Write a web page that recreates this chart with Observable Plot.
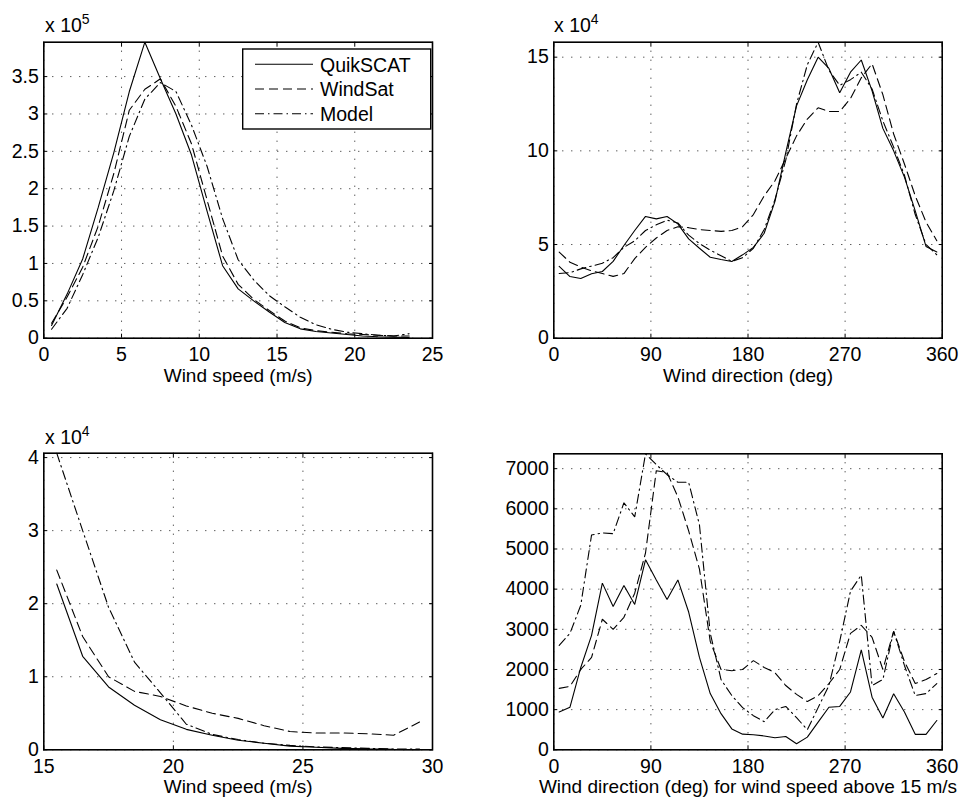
<!DOCTYPE html>
<html>
<head>
<meta charset="utf-8">
<script src="https://cdn.jsdelivr.net/npm/d3@7"></script>
<script src="https://cdn.jsdelivr.net/npm/@observablehq/plot@0.6"></script>
<style>
html, body { margin: 0; padding: 0; background: #fff; }
#root { position: relative; width: 972px; height: 801px; overflow: hidden; background: #fff; font-family: "Liberation Sans", Arial, Helvetica, sans-serif; }
.panel { position: absolute; }
#overlay { position: absolute; left: 0; top: 0; pointer-events: none; }
</style>
</head>
<body>
<div id="root"></div>
<script>
// ---------- DATA ----------
const seriesNames = ["QuikSCAT", "WindSat", "Model"];

// Panel 1: wind speed histogram (x 10^5)
const speedBins = [0.5,1.5,2.5,3.5,4.5,5.5,6.5,7.5,8.5,9.5,10.5,11.5,12.5,13.5,14.5,15.5,16.5,17.5,18.5,19.5,20.5,21.5,22.5,23.5];
const speedQuikSCAT = [0.17,0.59,1.06,1.75,2.48,3.3,3.96,3.47,3.0,2.45,1.7,0.97,0.66,0.5,0.35,0.21,0.125,0.09,0.07,0.05,0.03,0.02,0.015,0.01];
const speedWindSat  = [0.2,0.55,0.95,1.5,2.2,3.05,3.33,3.47,3.1,2.6,1.85,1.1,0.72,0.52,0.37,0.23,0.14,0.1,0.08,0.06,0.05,0.04,0.03,0.03];
const speedModel    = [0.12,0.4,0.85,1.35,1.97,2.7,3.2,3.42,3.3,2.85,2.3,1.6,1.05,0.78,0.57,0.42,0.28,0.18,0.12,0.08,0.06,0.04,0.03,0.06];
const speedTicksX = [0,5,10,15,20,25];
const speedTicksY = [0,0.5,1,1.5,2,2.5,3,3.5];

// Panel 2: wind direction histogram (x 10^4)
const dirBins = [5,15,25,35,45,55,65,75,85,95,105,115,125,135,145,155,165,175,185,195,205,215,225,235,245,255,265,275,285,295,305,315,325,335,345,355];
const dirQuikSCAT = [3.83,3.29,3.19,3.44,3.56,4.1,4.95,5.75,6.5,6.37, 6.5,6.1,5.3,4.8,4.32,4.2,4.09,4.45,4.85,5.6, 7.3,9.9,12.4,13.8,15.0,14.4,13.1,14.2,14.85,13.2, 11.2,10.0,8.6,6.8,4.9,4.6];
const dirWindSat  = [4.6,4.05,3.8,3.6,3.45,3.3,3.45,4.25,4.85,5.35, 5.75,5.95,5.9,5.8,5.75,5.7,5.75,5.95,6.6,7.6, 8.4,9.6,10.8,11.7,12.3,12.1,12.1,12.8,13.9,14.65, 13.0,10.9,9.3,7.6,6.2,5.2];
const dirModel    = [3.45,3.5,3.7,3.85,4.0,4.3,4.85,5.2,5.75,6.05, 6.3,6.15,5.5,5.05,4.7,4.4,4.1,4.3,4.8,5.8, 7.4,9.5,12.5,14.6,15.8,14.3,13.5,13.8,14.2,13.3, 11.6,10.2,8.7,6.6,5.0,4.45];
const dirTicksX = [0,90,180,270,360];
const dirTicksY = [0,5,10,15];

// Panel 3: high wind speed tail (x 10^4)
const highBins = [15.5,16.5,17.5,18.5,19.5,20.5,21.5,22.5,23.5,24.5,25.5,26.5,27.5,28.5,29.5];
const highQuikSCAT = [2.27,1.28,0.86,0.61,0.41,0.28,0.2,0.13,0.09,0.05,0.035,0.02,0.012,0.006,0.003];
const highWindSat  = [2.46,1.55,1.0,0.8,0.73,0.6,0.5,0.43,0.33,0.25,0.23,0.23,0.22,0.2,0.38];
const highModel    = [4.06,3.0,1.95,1.2,0.78,0.35,0.21,0.14,0.09,0.06,0.04,0.03,0.02,0.01,0.01];
const highTicksX = [15,20,25,30];
const highTicksY = [0,1,2,3,4];

// Panel 4: wind direction for wind speed above 15 m/s (counts)
const hdirQuikSCAT = [940,1060,2050,2850,4150,3570,4090,3620,4730,4230, 3740,4230,3430,2300,1400,900,520,390,375,345, 300,330,150,315,690,1060,1080,1440,2490,1310, 790,1395,940,385,385,730];
const hdirWindSat  = [1530,1580,2000,2300,3250,3000,3300,3900,4900,6950, 6900,6300,5450,4500,2700,2000,1970,2000,2220,2050, 1920,1600,1380,1200,1350,1650,2000,2900,3100,2800, 2000,2950,2200,1650,1750,1900];
const hdirModel    = [2600,2900,3600,5350,5400,5380,6150,5800,7370,7100, 6850,6660,6660,5600,2900,1750,1350,1050,850,700, 1000,1080,800,500,1050,1600,2700,3950,4350,1600, 1750,2950,2100,1350,1400,1650];
const hdirTicksY = [0,1000,2000,3000,4000,5000,6000,7000];

const xLabels = ["Wind speed (m/s)", "Wind direction (deg)", "Wind speed (m/s)", "Wind direction (deg) for wind speed above 15 m/s"];

// ---------- STYLE ----------
const FONT = '"Liberation Sans", Arial, Helvetica, sans-serif';
const FS = 19.5;
const dashes = { QuikSCAT: null, WindSat: "9,5", Model: "9,4,1.5,4" };

function makePanel(o) {
  const lines = o.series.map((vals, k) => {
    const name = seriesNames[k];
    const rows = o.xs.map((x, i) => ({ x, y: vals[i] }));
    return Plot.line(rows, { x: "x", y: "y", stroke: "#000", strokeWidth: 1.1, strokeDasharray: dashes[name], strokeLinejoin: "miter" });
  });
  const grid = { stroke: "#000", strokeOpacity: 0.9, strokeWidth: 1, strokeDasharray: "1,8" };
  const plot = Plot.plot({
    width: o.width, height: o.height,
    marginLeft: o.mL, marginRight: o.mR, marginTop: o.mT, marginBottom: o.mB,
    x: { domain: o.xDomain, label: null },
    y: { domain: o.yDomain, label: null },
    style: { fontFamily: FONT, fontSize: FS + "px", color: "#000", background: "transparent", overflow: "visible" },
    marks: [
      Plot.gridX(o.xTicks, grid),
      Plot.gridY(o.yTicks, grid),
      ...lines,
      Plot.axisX(o.xTicks, { anchor: "bottom", tickSize: -4, tickPadding: 13, tickFormat: d => String(d), label: null, stroke: "#000" }),
      Plot.axisX(o.xTicks, { anchor: "top", tickSize: -4, tickFormat: () => "", label: null, stroke: "#000" }),
      Plot.axisY(o.yTicks, { anchor: "left", tickSize: -4, tickPadding: 9, tickFormat: d => String(d), label: null, stroke: "#000" }),
      Plot.axisY(o.yTicks, { anchor: "right", tickSize: -4, tickFormat: () => "", label: null, stroke: "#000" }),
      Plot.frame({ stroke: "#000", strokeWidth: 1.6 }),
      Plot.text([o.xLabel], { frameAnchor: "bottom", dy: 43.3, text: d => d, fill: "#000", fontSize: 19 })
    ]
  });
  const wrap = document.createElement("div");
  wrap.className = "panel";
  wrap.style.left = o.left + "px";
  wrap.style.top = o.top + "px";
  wrap.appendChild(plot);
  document.getElementById("root").appendChild(wrap);
}

makePanel({ left: 0, top: 0, width: 486, height: 400, mL: 43.3, mR: 54, mT: 41.7, mB: 62.3,
  xDomain: [0, 25], yDomain: [0, 3.96], xTicks: speedTicksX, yTicks: speedTicksY, xLabel: xLabels[0],
  xs: speedBins, series: [speedQuikSCAT, speedWindSat, speedModel] });

makePanel({ left: 486, top: 0, width: 486, height: 400, mL: 67.3, mR: 30.3, mT: 41.7, mB: 62.3,
  xDomain: [0, 360], yDomain: [0, 15.8], xTicks: dirTicksX, yTicks: dirTicksY, xLabel: xLabels[1],
  xs: dirBins, series: [dirQuikSCAT, dirWindSat, dirModel] });

makePanel({ left: 0, top: 400, width: 486, height: 401, mL: 43.3, mR: 54, mT: 52.7, mB: 51.7,
  xDomain: [15, 30], yDomain: [0, 4.06], xTicks: highTicksX, yTicks: highTicksY, xLabel: xLabels[2],
  xs: highBins, series: [highQuikSCAT, highWindSat, highModel] });

makePanel({ left: 486, top: 400, width: 486, height: 401, mL: 67.3, mR: 30.3, mT: 53.3, mB: 51.7,
  xDomain: [0, 360], yDomain: [0, 7370], xTicks: dirTicksX, yTicks: hdirTicksY, xLabel: xLabels[3],
  xs: dirBins, series: [hdirQuikSCAT, hdirWindSat, hdirModel] });

// ---------- OVERLAY: exponent labels and legend ----------
const ov = d3.select("#root").append("svg").attr("id", "overlay").attr("width", 972).attr("height", 801)
  .style("font-family", FONT);

const exps = [ { x: 45, y: 32, e: "5" }, { x: 554, y: 32, e: "4" }, { x: 45, y: 444, e: "4" } ];
exps.forEach(d => {
  const t = ov.append("text").attr("x", d.x).attr("y", d.y).attr("font-size", FS).attr("fill", "#000");
  t.append("tspan").text("x 10");
  t.append("tspan").attr("dy", -8).attr("font-size", 14).text(d.e);
});

const lg = ov.append("g");
lg.append("rect").attr("x", 242.7).attr("y", 49).attr("width", 188).attr("height", 80)
  .attr("fill", "#fff").attr("stroke", "#000").attr("stroke-width", 1.4);
seriesNames.forEach((name, i) => {
  const cy = 64.3 + i * 24.7;
  lg.append("line").attr("x1", 255).attr("x2", 313).attr("y1", cy).attr("y2", cy)
    .attr("stroke", "#000").attr("stroke-width", 1.1).attr("stroke-dasharray", dashes[name]);
  lg.append("text").attr("x", 320).attr("y", cy + 7.2).attr("font-size", FS).attr("fill", "#000").text(name);
});
</script>
</body>
</html>
